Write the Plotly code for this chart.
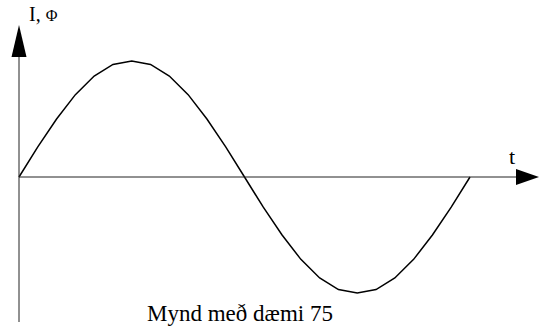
import plotly.graph_objects as go

W, H = 539, 331

# phase angle (degrees) and the sampled waveform value
angle_deg = [0, 15, 30, 45, 60, 75, 90, 105, 120, 135, 150, 165, 180,
             195, 210, 225, 240, 255, 270, 285, 300, 315, 330, 345, 360]
wave = [0.0, 0.26, 0.5, 0.71, 0.87, 0.97, 1.0, 0.97, 0.87, 0.71, 0.5, 0.26, 0.0,
        -0.26, -0.5, -0.71, -0.87, -0.97, -1.0, -0.97, -0.87, -0.71, -0.5, -0.26, 0.0]

y_label = "I, <span style='font-size:16px'>Φ</span>"
x_label = "t"
caption = "Mynd með dæmi 75"

# pixel layout of the drawing
x0_px, x_end_px = 19, 470      # origin and end of one period
y0_px, amp_px = 177, 116       # baseline and amplitude
deg_per_px = 360 / (x_end_px - x0_px)

x_range = [-x0_px * deg_per_px, (W - x0_px) * deg_per_px]
y_range = [-(H - y0_px) / amp_px, y0_px / amp_px]

def px_x(px):
    return (px - x0_px) * deg_per_px

def px_y(py):
    return (y0_px - py) / amp_px

fig = go.Figure()
fig.add_trace(go.Scatter(x=angle_deg, y=wave, mode="lines",
                         line=dict(color="black", width=1.5), hoverinfo="skip"))

shapes = []
# vertical axis
shapes.append(dict(type="line", x0=0, x1=0, y0=px_y(322), y1=px_y(50),
                   line=dict(color="#222", width=1)))
# horizontal axis
shapes.append(dict(type="line", x0=0, x1=px_x(520), y0=0, y1=0,
                   line=dict(color="#222", width=1)))
# arrowhead on vertical axis
shapes.append(dict(type="path",
                   path=f"M {px_x(11.5)},{px_y(57)} L {px_x(19)},{px_y(25)} L {px_x(26.5)},{px_y(57)} Z",
                   fillcolor="black", line=dict(color="black", width=0)))
# arrowhead on horizontal axis
shapes.append(dict(type="path",
                   path=f"M {px_x(516)},{px_y(169)} L {px_x(539)},{px_y(177)} L {px_x(516)},{px_y(185)} Z",
                   fillcolor="black", line=dict(color="black", width=0)))

serif = "Liberation Serif, Times New Roman, serif"
annotations = [
    dict(text=y_label, x=27 / W, y=1 - 14 / H, xref="paper", yref="paper",
         xanchor="left", yanchor="middle", showarrow=False,
         font=dict(family=serif, size=20, color="black")),
    dict(text=x_label, x=512 / W, y=1 - 157 / H, xref="paper", yref="paper",
         xanchor="center", yanchor="middle", showarrow=False,
         font=dict(family=serif, size=22, color="black")),
    dict(text=caption, x=240 / W, y=1 - 313 / H, xref="paper", yref="paper",
         xanchor="center", yanchor="middle", showarrow=False,
         font=dict(family=serif, size=23, color="black")),
]

fig.update_layout(
    width=W, height=H,
    margin=dict(l=0, r=0, t=0, b=0),
    paper_bgcolor="white", plot_bgcolor="white",
    showlegend=False,
    font=dict(family=serif),
    xaxis=dict(range=x_range, visible=False, fixedrange=True),
    yaxis=dict(range=y_range, visible=False, fixedrange=True),
    shapes=shapes, annotations=annotations,
)

fig.write_html("out.html", config={"displayModeBar": False})
